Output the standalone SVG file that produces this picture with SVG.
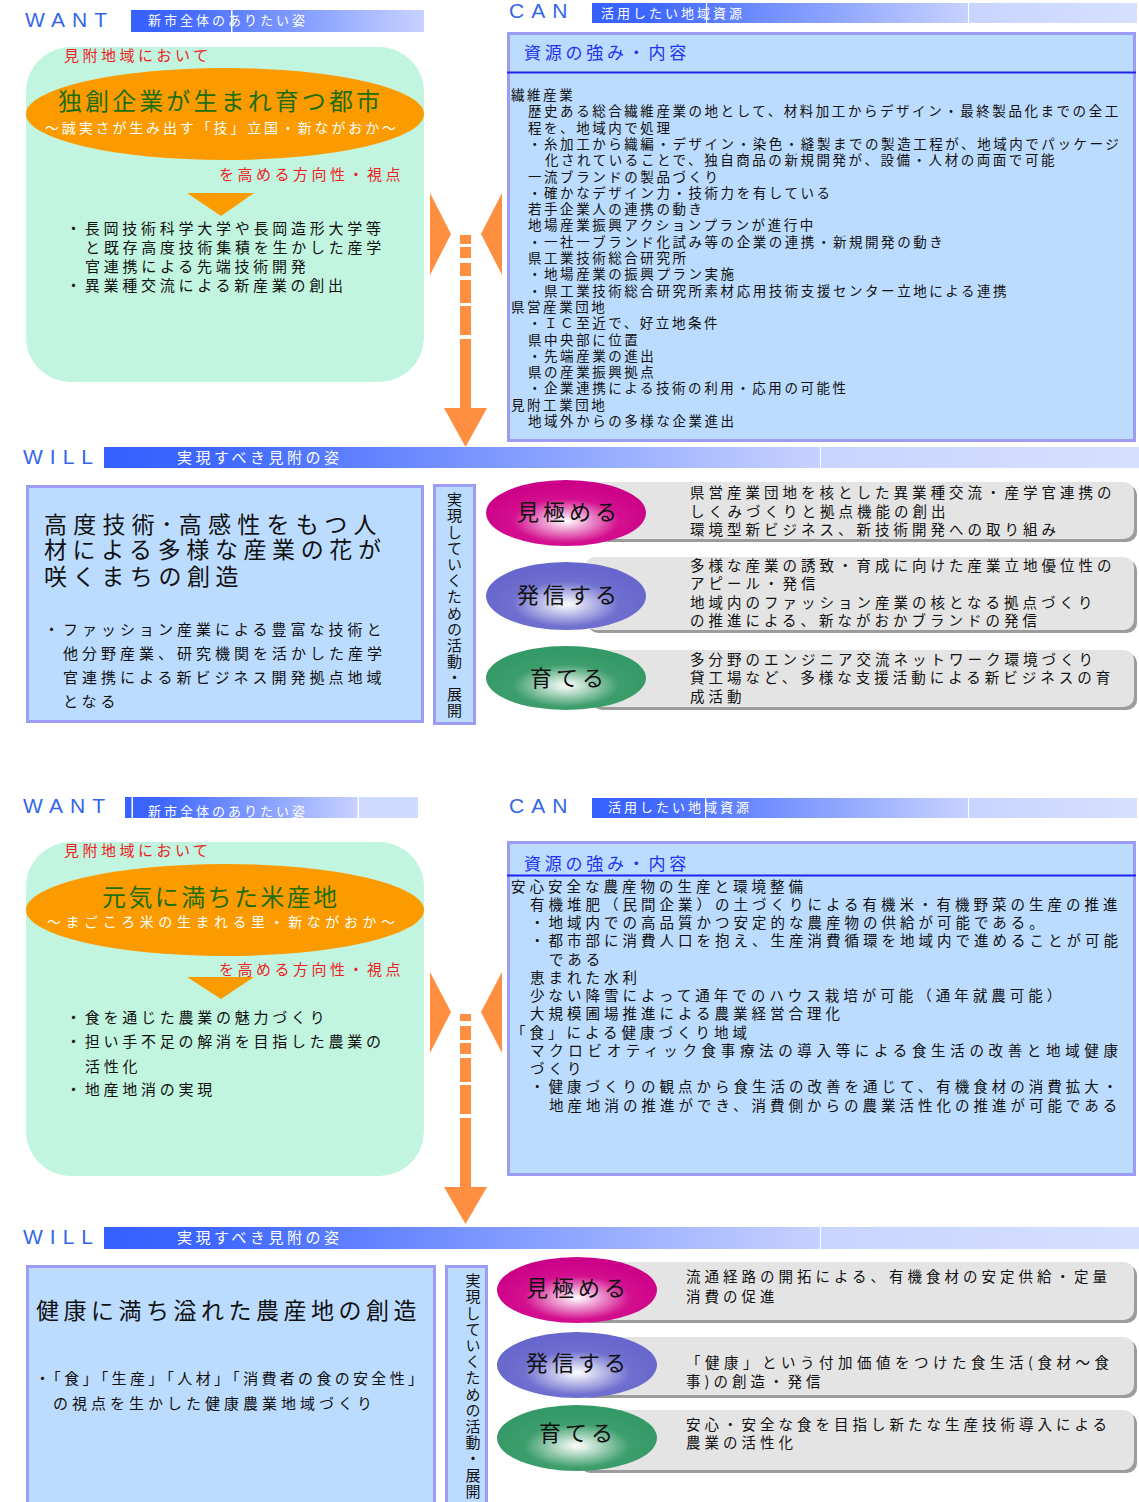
<svg xmlns="http://www.w3.org/2000/svg" width="1139" height="1502" viewBox="0 0 1139 1502">
<style>
text{font-family:"Noto Sans CJK JP","Noto Sans CJK SC",sans-serif;dominant-baseline:central;fill:#111;transform:translate(0px,-2px)}
.hd{font-family:"Liberation Sans",Arial,sans-serif;font-size:21px;letter-spacing:7px;fill:#3366e6;dominant-baseline:auto;transform:none}
.bt{font-size:13px;letter-spacing:3px;fill:#fff}
.wb{font-size:15px;letter-spacing:3.5px;fill:#fff}
.red{font-size:15px;letter-spacing:3.5px;fill:#ee2222}
.b15{font-size:15px;letter-spacing:3.75px}
.gt{font-size:24px;letter-spacing:3px;fill:#1e6e0a}
.st{font-size:14px;letter-spacing:2px;fill:#fff}
.ct{font-size:17px;letter-spacing:3.75px;fill:#2233ee}
.c1{font-size:13.5px;letter-spacing:2.55px}
.c2{font-size:14.5px;letter-spacing:4px}
.vt{font-size:23px;letter-spacing:5.6px}
.wb15{font-size:15px;letter-spacing:4px}
.vert{font-size:15px;letter-spacing:1.2px;writing-mode:vertical-rl;text-orientation:upright}
.lbl{font-size:22px;letter-spacing:4px}
.pt{font-size:14.5px;letter-spacing:4px}
.green{fill:#c1f5df}
.orange{fill:#fb9b00}
.box{fill:#bbdcff;stroke:#9c9cf4;stroke-width:3}
.gray{fill:#e4e4e4}
.shadow{fill:#9c9c9c}
.wl{fill:#fff}
.arr{fill:#fe8f40}
.uline{stroke:#2222ee;stroke-width:2}
</style>
<defs>
<linearGradient id="gBar" x1="0" y1="0" x2="1" y2="0">
<stop offset="0" stop-color="#3660ff"/><stop offset="0.15" stop-color="#3e67ff"/><stop offset="1" stop-color="#c8d2ff"/>
</linearGradient>
<linearGradient id="gLight" x1="0" y1="0" x2="1" y2="0">
<stop offset="0" stop-color="#c9d4ff"/><stop offset="1" stop-color="#d6e0ff"/>
</linearGradient>
<radialGradient id="gMag" cx="0.5" cy="0.62" r="0.55">
<stop offset="0" stop-color="#ffffff"/><stop offset="0.6" stop-color="#d4108f"/><stop offset="1" stop-color="#cc0088"/>
</radialGradient>
<radialGradient id="gBlue" cx="0.5" cy="0.62" r="0.55">
<stop offset="0" stop-color="#ffffff"/><stop offset="0.6" stop-color="#7070d0"/><stop offset="1" stop-color="#6666cc"/>
</radialGradient>
<radialGradient id="gGreen" cx="0.5" cy="0.62" r="0.55">
<stop offset="0" stop-color="#ffffff"/><stop offset="0.6" stop-color="#3d9e6c"/><stop offset="1" stop-color="#339966"/>
</radialGradient>
<clipPath id="clipW2"><rect x="125" y="799" width="293" height="21"/></clipPath>
</defs>

<!-- ===== Section 1 ===== -->
<g id="want1">
<text class="hd" x="25" y="27">WANT</text>
<rect x="131" y="10" width="293" height="22" fill="url(#gBar)"/>
<rect x="231" y="10" width="1.5" height="22" class="wl"/>
<text class="bt" x="148" y="21">新市全体のありたい姿</text>
<rect x="26" y="47" width="398" height="335" rx="45" class="green"/>
<text class="red" x="64" y="56">見附地域において</text>
<ellipse cx="225" cy="114" rx="199" ry="46" class="orange"/>
<text class="gt" x="58" y="101" textLength="325">独創企業が生まれ育つ都市</text>
<text class="st" x="45" y="129" textLength="353">～誠実さが生み出す「技」立国・新ながおか～</text>
<text class="red" x="219" y="175">を高める方向性・視点</text>
<polygon points="187,193 254,193 221,216" class="orange"/>
<text class="b15" x="66" y="229">・長岡技術科学大学や長岡造形大学等</text>
<text class="b15" x="85" y="248">と既存高度技術集積を生かした産学</text>
<text class="b15" x="85" y="267">官連携による先端技術開発</text>
<text class="b15" x="66" y="286">・異業種交流による新産業の創出</text>
</g>

<g id="can1">
<text class="hd" x="509" y="18">CAN</text>
<rect x="592" y="3" width="376" height="20" fill="url(#gBar)"/>
<rect x="969" y="3" width="168" height="20" fill="url(#gLight)"/>
<rect x="706" y="3" width="1.2" height="20" class="wl"/>
<text class="bt" x="601" y="14">活用したい地域資源</text>
<rect x="508.5" y="33.5" width="626" height="407" class="box"/>
<text class="ct" x="524" y="53">資源の強み・内容</text>
<line x1="507" y1="72.5" x2="1136" y2="72.5" class="uline"/>
<text class="c1" x="511" y="96">繊維産業</text>
<text class="c1" x="528" y="112.3">歴史ある総合繊維産業の地として、材料加工からデザイン・最終製品化までの全工</text>
<text class="c1" x="528" y="128.6">程を、地域内で処理</text>
<text class="c1" x="528" y="144.9">・糸加工から織編・デザイン・染色・縫製までの製造工程が、地域内でパッケージ</text>
<text class="c1" x="545" y="161.2">化されていることで、独自商品の新規開発が、設備・人材の両面で可能</text>
<text class="c1" x="528" y="177.5">一流ブランドの製品づくり</text>
<text class="c1" x="528" y="193.8">・確かなデザイン力・技術力を有している</text>
<text class="c1" x="528" y="210.1">若手企業人の連携の動き</text>
<text class="c1" x="528" y="226.4">地場産業振興アクションプランが進行中</text>
<text class="c1" x="528" y="242.7">・一社一ブランド化試み等の企業の連携・新規開発の動き</text>
<text class="c1" x="528" y="259">県工業技術総合研究所</text>
<text class="c1" x="528" y="275.3">・地場産業の振興プラン実施</text>
<text class="c1" x="528" y="291.6">・県工業技術総合研究所素材応用技術支援センター立地による連携</text>
<text class="c1" x="511" y="307.9">県営産業団地</text>
<text class="c1" x="528" y="324.2">・ＩＣ至近で、好立地条件</text>
<text class="c1" x="528" y="340.5">県中央部に位置</text>
<text class="c1" x="528" y="356.8">・先端産業の進出</text>
<text class="c1" x="528" y="373.1">県の産業振興拠点</text>
<text class="c1" x="528" y="389.4">・企業連携による技術の利用・応用の可能性</text>
<text class="c1" x="511" y="405.7">見附工業団地</text>
<text class="c1" x="528" y="422">地域外からの多様な企業進出</text>
</g>

<g id="will1-header">
<text class="hd" x="23" y="464">WILL</text>
<rect x="104" y="447" width="716" height="21" fill="url(#gBar)"/>
<rect x="821" y="447" width="318" height="21" fill="url(#gLight)"/>
<text class="wb" x="177" y="458">実現すべき見附の姿</text>
</g>

<g id="will1-vision">
<rect x="27.5" y="486.5" width="395" height="235" class="box"/>
<text class="vt" x="44" y="525" textLength="338">高度技術･高感性をもつ人</text>
<text class="vt" x="44" y="550">材による多様な産業の花が</text>
<text class="vt" x="44" y="577">咲くまちの創造</text>
<text class="wb15" x="44" y="630">・ファッション産業による豊富な技術と</text>
<text class="wb15" x="63" y="654">他分野産業、研究機関を活かした産学</text>
<text class="wb15" x="63" y="678">官連携による新ビジネス開発拠点地域</text>
<text class="wb15" x="63" y="702">となる</text>
</g>

<g id="will1-activity">
<rect x="434.5" y="485.5" width="40" height="238" class="box"/>
<text class="vert" x="454.5" y="494">実現していくための活動・展開</text>
</g>

<g id="will1-mikiwameru">
<rect x="569" y="485" width="568" height="57" rx="10" class="shadow"/>
<rect x="566" y="482" width="568" height="57" rx="10" class="gray"/>
<ellipse cx="566" cy="513" rx="80" ry="33" fill="url(#gMag)"/>
<text class="lbl" x="517" y="512">見極める</text>
<text class="pt" x="690" y="493">県営産業団地を核とした異業種交流・産学官連携の</text>
<text class="pt" x="690" y="512">しくみづくりと拠点機能の創出</text>
<text class="pt" x="690" y="530">環境型新ビジネス、新技術開発への取り組み</text>
</g>

<g id="will1-hasshin">
<rect x="588" y="560" width="549" height="73" rx="10" class="shadow"/>
<rect x="585" y="557" width="549" height="73" rx="10" class="gray"/>
<ellipse cx="566" cy="596" rx="80" ry="34" fill="url(#gBlue)"/>
<text class="lbl" x="517" y="595">発信する</text>
<text class="pt" x="690" y="566">多様な産業の誘致・育成に向けた産業立地優位性の</text>
<text class="pt" x="690" y="584">アピール・発信</text>
<text class="pt" x="690" y="603">地域内のファッション産業の核となる拠点づくり</text>
<text class="pt" x="690" y="621">の推進による、新ながおかブランドの発信</text>
</g>

<g id="will1-sodateru">
<rect x="592" y="653" width="545" height="57" rx="10" class="shadow"/>
<rect x="589" y="650" width="545" height="57" rx="10" class="gray"/>
<ellipse cx="566" cy="678" rx="80" ry="32" fill="url(#gGreen)"/>
<text class="lbl" x="530" y="678">育てる</text>
<text class="pt" x="690" y="660">多分野のエンジニア交流ネットワーク環境づくり</text>
<text class="pt" x="690" y="678">貸工場など、多様な支援活動による新ビジネスの育</text>
<text class="pt" x="690" y="697">成活動</text>
</g>

<!-- ===== Section 2 ===== -->
<g id="want2">
<text class="hd" x="23" y="813">WANT</text>
<rect x="125" y="797" width="233" height="21" fill="url(#gBar)"/>
<rect x="359" y="797" width="59" height="21" fill="#cfdaff"/>
<rect x="131.5" y="797" width="1.5" height="21" class="wl"/>
<rect x="357.5" y="797" width="1.5" height="21" class="wl"/>
<text class="bt" x="148" y="812" clip-path="url(#clipW2)">新市全体のありたい姿</text>
<rect x="26" y="842" width="398" height="334" rx="45" class="green"/>
<text class="red" x="64" y="851">見附地域において</text>
<ellipse cx="225" cy="910" rx="199" ry="46" class="orange"/>
<text class="gt" x="102" y="897" textLength="238">元気に満ちた米産地</text>
<text class="st" x="47" y="923" textLength="350">～まごころ米の生まれる里・新ながおか～</text>
<text class="red" x="219" y="970">を高める方向性・視点</text>
<polygon points="187,977 254,977 221,999" class="orange"/>
<text class="b15" x="66" y="1018">・食を通じた農業の魅力づくり</text>
<text class="b15" x="66" y="1042">・担い手不足の解消を目指した農業の</text>
<text class="b15" x="85" y="1067">活性化</text>
<text class="b15" x="66" y="1090">・地産地消の実現</text>
</g>

<g id="can2">
<text class="hd" x="509" y="813">CAN</text>
<rect x="592" y="798" width="376" height="20" fill="url(#gBar)"/>
<rect x="969" y="798" width="168" height="20" fill="url(#gLight)"/>
<rect x="705" y="798" width="1.2" height="20" class="wl"/>
<text class="bt" x="608" y="808">活用したい地域資源</text>
<rect x="508.5" y="842.5" width="626" height="332" class="box"/>
<text class="ct" x="524" y="864">資源の強み・内容</text>
<line x1="507" y1="875.5" x2="1136" y2="875.5" class="uline"/>
<text class="c2" x="511" y="887">安心安全な農産物の生産と環境整備</text>
<text class="c2" x="530" y="905.3">有機堆肥（民間企業）の土づくりによる有機米・有機野菜の生産の推進</text>
<text class="c2" x="530" y="923.5">・地域内での高品質かつ安定的な農産物の供給が可能である。</text>
<text class="c2" x="530" y="941.8">・都市部に消費人口を抱え、生産消費循環を地域内で進めることが可能</text>
<text class="c2" x="549" y="960">である</text>
<text class="c2" x="530" y="978.3">恵まれた水利</text>
<text class="c2" x="530" y="996.5">少ない降雪によって通年でのハウス栽培が可能（通年就農可能）</text>
<text class="c2" x="530" y="1014.8">大規模圃場推進による農業経営合理化</text>
<text class="c2" x="511" y="1033">「食」による健康づくり地域</text>
<text class="c2" x="530" y="1051.3" textLength="592">マクロビオティック食事療法の導入等による食生活の改善と地域健康</text>
<text class="c2" x="530" y="1069.5">づくり</text>
<text class="c2" x="530" y="1087.8">・健康づくりの観点から食生活の改善を通じて、有機食材の消費拡大・</text>
<text class="c2" x="549" y="1106">地産地消の推進ができ、消費側からの農業活性化の推進が可能である</text>
</g>

<g id="will2-header">
<text class="hd" x="23" y="1244">WILL</text>
<rect x="104" y="1227" width="716" height="22" fill="url(#gBar)"/>
<rect x="821" y="1227" width="318" height="22" fill="url(#gLight)"/>
<text class="wb" x="177" y="1238">実現すべき見附の姿</text>
</g>

<g id="will2-vision">
<rect x="27.5" y="1266.5" width="407" height="250" class="box"/>
<text class="vt" x="36" y="1311" textLength="386">健康に満ち溢れた農産地の創造</text>
<text class="wb15" x="35" y="1379" textLength="392">・「食」「生産」「人材」「消費者の食の安全性」</text>
<text class="wb15" x="53" y="1404">の視点を生かした健康農業地域づくり</text>
</g>

<g id="will2-activity">
<rect x="446.5" y="1266.5" width="40" height="250" class="box"/>
<text class="vert" x="473" y="1275">実現していくための活動・展開</text>
</g>

<g id="will2-mikiwameru">
<rect x="580" y="1265" width="557" height="58" rx="10" class="shadow"/>
<rect x="577" y="1262" width="557" height="58" rx="10" class="gray"/>
<ellipse cx="577" cy="1290" rx="80" ry="33" fill="url(#gMag)"/>
<text class="lbl" x="526" y="1288">見極める</text>
<text class="pt" x="686" y="1277">流通経路の開拓による、有機食材の安定供給・定量</text>
<text class="pt" x="686" y="1297">消費の促進</text>
</g>

<g id="will2-hasshin">
<rect x="580" y="1340" width="557" height="58" rx="10" class="shadow"/>
<rect x="577" y="1337" width="557" height="58" rx="10" class="gray"/>
<ellipse cx="577" cy="1365" rx="80" ry="33" fill="url(#gBlue)"/>
<text class="lbl" x="526" y="1363">発信する</text>
<text class="pt" x="686" y="1363" textLength="427">「健康」という付加価値をつけた食生活(食材～食</text>
<text class="pt" x="686" y="1382">事)の創造・発信</text>
</g>

<g id="will2-sodateru">
<rect x="580" y="1413" width="557" height="60" rx="10" class="shadow"/>
<rect x="577" y="1410" width="557" height="60" rx="10" class="gray"/>
<ellipse cx="577" cy="1438" rx="80" ry="33" fill="url(#gGreen)"/>
<text class="lbl" x="539" y="1433">育てる</text>
<text class="pt" x="686" y="1425">安心・安全な食を目指し新たな生産技術導入による</text>
<text class="pt" x="686" y="1443">農業の活性化</text>
</g>

<g id="connectors">
<g class="arr">
<polygon points="430,193 451,234 430,275"/>
<polygon points="502,193 481,234 502,275"/>
<rect x="460" y="235" width="11" height="9"/>
<rect x="460" y="247" width="11" height="11"/>
<rect x="460" y="263" width="11" height="13"/>
<rect x="460" y="280" width="11" height="23"/>
<rect x="460" y="306" width="11" height="29"/>
<rect x="460" y="339" width="11" height="70"/>
<polygon points="444,408 487,408 465.5,447"/>
</g>
<g class="arr">
<polygon points="430,972 451,1012 430,1053"/>
<polygon points="502,972 481,1012 502,1053"/>
<rect x="460" y="1014" width="11" height="7"/>
<rect x="460" y="1026" width="11" height="14"/>
<rect x="460" y="1043" width="11" height="11"/>
<rect x="460" y="1058" width="11" height="24"/>
<rect x="460" y="1085" width="11" height="29"/>
<rect x="460" y="1118" width="11" height="70"/>
<polygon points="444,1187 487,1187 465.5,1224"/>
</g>
</g>
</svg>
